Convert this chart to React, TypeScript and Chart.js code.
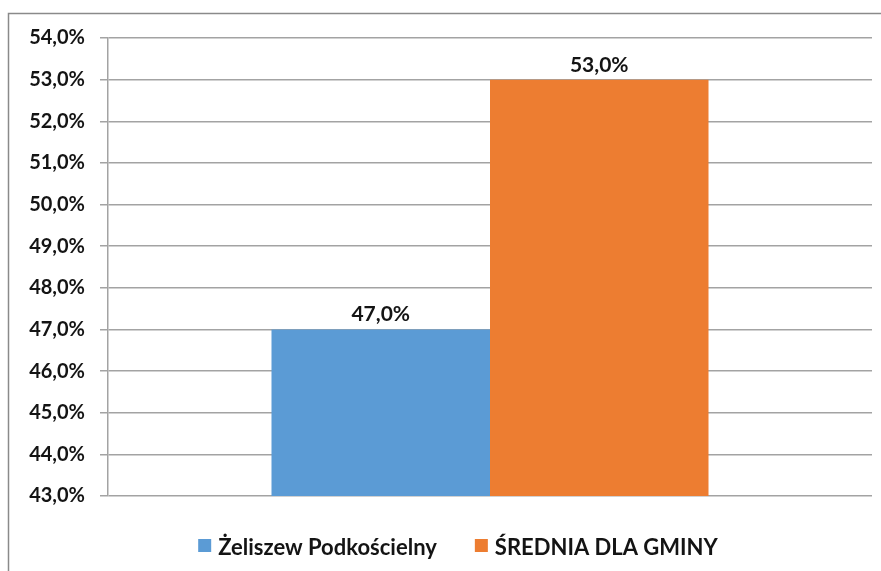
import React, { useEffect, useRef } from "react";
import { Chart, registerables } from "chart.js";

Chart.register(...registerables);

const categories = [""];
const seriesNames = ["Żeliszew Podkościelny", "ŚREDNIA DLA GMINY"];
const seriesValues = [[47.0], [53.0]];
const seriesColors = ["#5b9bd5", "#ed7d31"];
const yMin = 43;
const yMax = 54;
const yStep = 1;

const FONT = "Lato, 'Open Sans', 'Liberation Sans', sans-serif";
const TEXT_COLOR = "#141414";
const GRID_COLOR = "#a3a3a3";

const fmt = (v: number) => v.toFixed(1).replace(".", ",") + "%";

const framePlugin = {
  id: "frame",
  beforeDraw(chart: any) {
    const ctx = chart.ctx;
    ctx.save();
    ctx.fillStyle = "#ffffff";
    ctx.fillRect(0, 0, chart.width, chart.height);
    ctx.strokeStyle = "#8a8a8a";
    ctx.lineWidth = 1.5;
    ctx.strokeRect(8.5, 13.5, 1000, 700);
    ctx.restore();
  },
};

const labelPlugin = {
  id: "valueLabels",
  afterDatasetsDraw(chart: any) {
    const ctx = chart.ctx;
    ctx.save();
    ctx.font = `bold 21px ${FONT}`;
    ctx.fillStyle = TEXT_COLOR;
    ctx.textAlign = "center";
    ctx.textBaseline = "alphabetic";
    chart.data.datasets.forEach((ds: any, i: number) => {
      const meta = chart.getDatasetMeta(i);
      meta.data.forEach((el: any, j: number) => {
        ctx.fillText(fmt(ds.data[j]), el.x, el.y - 8);
      });
    });
    ctx.restore();
  },
};

const legendPlugin = {
  id: "customLegend",
  afterDraw(chart: any) {
    const ctx = chart.ctx;
    ctx.save();
    ctx.font = `bold 22px ${FONT}`;
    const box = 13;
    const gapBoxText = 7;
    const gapItems = 38;
    const widths = seriesNames.map((n) => ctx.measureText(n).width);
    let total = 0;
    widths.forEach((w, i) => {
      total += box + gapBoxText + w + (i < widths.length - 1 ? gapItems : 0);
    });
    let x = 458 - total / 2;
    const yBox = 539;
    const yText = 555;
    seriesNames.forEach((n, i) => {
      ctx.fillStyle = seriesColors[i];
      ctx.fillRect(x, yBox, box, box);
      ctx.fillStyle = TEXT_COLOR;
      ctx.textAlign = "left";
      ctx.textBaseline = "alphabetic";
      ctx.fillText(n, x + box + gapBoxText, yText);
      x += box + gapBoxText + widths[i] + gapItems;
    });
    ctx.restore();
  },
};

export default function App() {
  const ref = useRef<HTMLCanvasElement | null>(null);
  useEffect(() => {
    if (!ref.current) return;
    const chart = new Chart(ref.current, {
      type: "bar",
      data: {
        labels: categories,
        datasets: seriesNames.map((name, i) => ({
          label: name,
          data: seriesValues[i],
          backgroundColor: seriesColors[i],
          borderWidth: 0,
          barPercentage: 1,
          categoryPercentage: 0.572,
        })),
      },
      options: {
        animation: false,
        responsive: false,
        maintainAspectRatio: false,
        layout: { padding: { left: 0, top: 38, right: 9, bottom: 75 } },
        plugins: {
          legend: { display: false },
          tooltip: { enabled: false },
        },
        scales: {
          x: { display: false },
          y: {
            min: yMin,
            max: yMax,
            afterFit: (scale: any) => {
              scale.width = 108;
            },
            ticks: {
              stepSize: yStep,
              padding: 15,
              color: TEXT_COLOR,
              font: { family: FONT, size: 20, weight: "bold" },
              callback: (v: any) => fmt(Number(v)),
            },
            grid: {
              color: GRID_COLOR,
              lineWidth: 1.5,
              tickLength: 8,
              drawTicks: true,
            },
            border: { display: true, color: GRID_COLOR, width: 1.5 },
          },
        },
      },
      plugins: [framePlugin, labelPlugin, legendPlugin],
    });
    return () => chart.destroy();
  }, []);
  return (
    <div style={{ position: "absolute", left: 0, top: 0, width: 881, height: 571 }}>
      <canvas ref={ref} width={881} height={571} style={{ display: "block" }} />
    </div>
  );
}
